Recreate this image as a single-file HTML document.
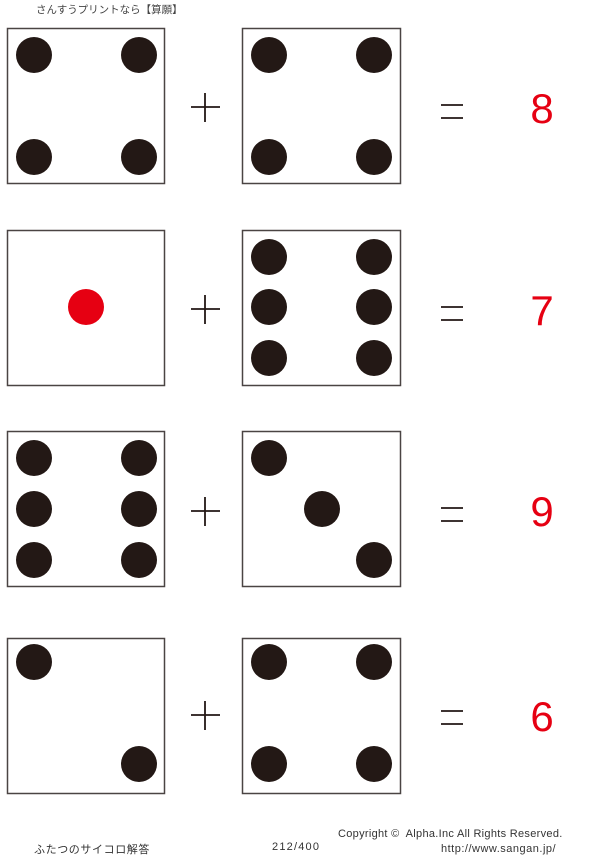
<!DOCTYPE html>
<html><head><meta charset="utf-8"><style>
body{margin:0;width:600px;height:859px;background:#fff;position:relative;overflow:hidden;font-family:"Liberation Sans","Noto Sans CJK JP",sans-serif}
.t{position:absolute;white-space:nowrap;color:#333}
</style></head><body>
<div class="t" style="left:36px;top:2px;font-size:10.5px;color:#444">さんすうプリントなら【算願】</div>
<svg width="600" height="859" style="position:absolute;left:0;top:0">
<g fill="none" stroke="#4a4443" stroke-width="1.5">
<rect x="7.5" y="28.5" width="157" height="155"/><rect x="242.5" y="28.5" width="158" height="155"/>
<rect x="7.5" y="230.5" width="157" height="155"/><rect x="242.5" y="230.5" width="158" height="155"/>
<rect x="7.5" y="431.5" width="157" height="155"/><rect x="242.5" y="431.5" width="158" height="155"/>
<rect x="7.5" y="638.5" width="157" height="155"/><rect x="242.5" y="638.5" width="158" height="155"/>
</g>
<g fill="#231815">
<circle cx="34" cy="55" r="18"/><circle cx="139" cy="55" r="18"/><circle cx="34" cy="157" r="18"/><circle cx="139" cy="157" r="18"/>
<circle cx="269" cy="55" r="18"/><circle cx="374" cy="55" r="18"/><circle cx="269" cy="157" r="18"/><circle cx="374" cy="157" r="18"/>
<circle cx="269" cy="257" r="18"/><circle cx="374" cy="257" r="18"/><circle cx="269" cy="307" r="18"/><circle cx="374" cy="307" r="18"/><circle cx="269" cy="358" r="18"/><circle cx="374" cy="358" r="18"/>
<circle cx="34" cy="458" r="18"/><circle cx="139" cy="458" r="18"/><circle cx="34" cy="509" r="18"/><circle cx="139" cy="509" r="18"/><circle cx="34" cy="560" r="18"/><circle cx="139" cy="560" r="18"/>
<circle cx="269" cy="458" r="18"/><circle cx="322" cy="509" r="18"/><circle cx="374" cy="560" r="18"/>
<circle cx="34" cy="662" r="18"/><circle cx="139" cy="764" r="18"/>
<circle cx="269" cy="662" r="18"/><circle cx="374" cy="662" r="18"/><circle cx="269" cy="764" r="18"/><circle cx="374" cy="764" r="18"/>
</g>
<circle cx="86" cy="307" r="18" fill="#e60012"/>
<g stroke="#231815" stroke-width="1.8">
<path d="M191 107h29M205 93v29M191 309h29M205 295v29M191 511h29M205 497v29M191 715h29M205 701v29"/>
<path d="M441 105h22M441 118h22M441 307h22M441 320h22M441 508h22M441 521h22M441 711h22M441 724h22"/>
</g>
<g fill="#e60012" font-family="Liberation Sans,sans-serif" font-size="42" text-anchor="middle">
<text x="542" y="123">8</text><text x="542" y="325">7</text><text x="542" y="526">9</text><text x="542" y="731">6</text>
</g>
</svg>
<div class="t" style="left:34px;top:841px;font-size:11px;letter-spacing:0.6px">ふたつのサイコロ解答</div>
<div class="t" style="left:272px;top:841px;font-size:11px;letter-spacing:1.2px">212/400</div>
<div class="t" style="left:338px;top:828px;font-size:11px;letter-spacing:0.3px">Copyright ©&nbsp; Alpha.Inc All Rights Reserved.</div>
<div class="t" style="left:441px;top:843px;font-size:11px;letter-spacing:0.5px">http://www.sangan.jp/</div>
</body></html>
